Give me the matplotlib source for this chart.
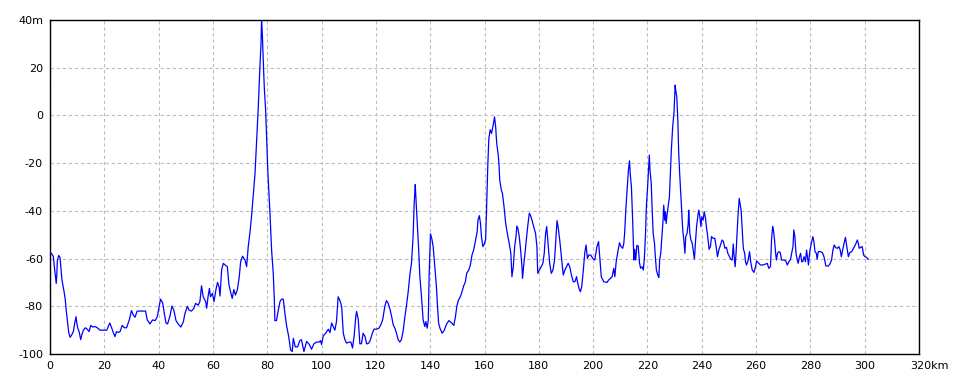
import matplotlib
matplotlib.use("Agg")
import matplotlib.pyplot as plt
import numpy as np

# distance (km) / elevation (m), in segments
km_a = [0, 0.6, 1.2, 1.8, 2.3, 2.5, 2.7, 3.2, 3.7, 4.4, 5.2, 5.6, 6, 6.5, 6.9, 7.4, 8, 8.6, 9.2, 9.6,
        9.8, 10.2, 10.8, 11.3, 11.7, 12.3, 13, 13.7, 14.4, 15, 15.7, 16.6, 17.4, 18.4, 19.6, 20.9,
        22, 22.7, 23.3, 23.9, 24.5, 25.2, 25.8, 26.6, 27.4, 28.2, 29.2, 30, 30.7, 31.3, 32.1, 33.1,
        34.4, 35.2, 35.8, 36.8, 37.8, 38.7, 39.5, 40.2, 40.7, 41.5, 42.1, 42.7, 43.3, 44.2, 44.9,
        45.6, 46.4, 47.2, 48.2, 49.1, 49.7, 50.6, 51.2, 52.1, 53, 53.6, 54.6, 55.2, 55.8, 56.4,
        57.3, 57.7, 58.2, 58.7, 59.1, 59.8, 60.4, 61.1, 61.7, 62.3, 62.6, 63.2, 63.8, 64.5, 65.3,
        65.9, 66.5, 67.1, 67.7, 68.3, 69, 69.7, 70.2, 70.9, 71.8, 72.4, 73, 73.6, 74.2, 74.8, 75.5,
        76.1, 76.7, 77.3, 77.7, 77.9, 78.2, 78.4, 78.9, 79.4, 79.8, 80.2, 81, 81.6, 82.2, 82.6,
        82.8, 83.4, 84, 84.7, 85.3, 85.9, 86.5, 87.1, 87.9, 88.6, 89.2, 89.6, 90.3, 91.2]
elev_a = [-57.1, -58, -59, -65.5, -70.4, -67, -61, -58.7, -59.6, -69, -74, -77, -82, -87, -91, -93,
          -92, -90.6, -86.5, -84.4, -86.5, -89, -91, -94, -92, -90, -89, -89.6, -90.6, -88, -88.7,
          -88.5, -89, -90, -90, -90, -87, -89, -91, -92.7, -90.6, -91, -90.6, -88, -89, -89, -85.7,
          -81.8, -83.7, -84.6, -82, -82, -82, -82, -85.7, -87.4, -85.7, -86, -84.4, -80, -77,
          -78.6, -83, -87, -87.4, -84, -79.9, -81.6, -86, -87.4, -88.7, -86.5, -83, -80, -81.6,
          -82, -80.8, -78.8, -79.5, -78, -71.4, -76, -78, -80.8, -76, -72.5, -76, -74.6, -78, -73,
          -70, -72, -75.7, -64.8, -62, -62.7, -63.4, -71, -74, -76.7, -73, -75.3, -73, -67.6,
          -61.3, -59, -60.6, -63.4, -55, -49.4, -42.5, -34, -24.3, -10.3, 3.6, 20.4, 30, 40, 34,
          27, 12, 2.2, -10, -23, -41, -56.4, -66, -77, -86, -86, -82, -78, -77, -77, -83, -88,
          -92.7, -98.3, -99, -93.4, -97, -97]

km_b = [92, 92.6, 93.5, 94.5, 95.5, 96.3, 97.2, 98.2, 99.1, 99.6, 100, 100.6, 101.5, 102.5, 103.1,
        103.7, 104.3, 104.9, 105.5, 106.1, 106.7, 107.4, 108, 108.6, 109.2, 110.2, 110.8, 111.4,
        112, 112.6, 112.9, 113.5, 114.1, 114.7, 115.3, 116, 116.6, 117.4, 118, 118.7, 119.3,
        120.2, 121.1, 121.8, 122.5, 123.3, 123.9, 124.5, 125.2, 125.8, 126.4, 127, 127.6, 128.2,
        128.8, 129.4, 130, 130.7, 131.3, 131.9, 132.5, 133.1, 133.7, 134.1, 134.5, 134.7, 135.2,
        135.7, 136.2, 136.8, 137.4, 138, 138.4, 138.9, 139.3, 139.6, 140.1, 140.6, 141.1, 141.7,
        142.3, 142.7, 143.1, 143.6, 144.4, 145.2, 146]
elev_b = [-94.3, -94, -99, -94.7, -96, -98, -95.7, -95, -95, -94.4, -96, -92.4, -91.3, -89.6, -91,
          -87, -88.5, -90, -86.4, -76, -77.4, -80, -91.3, -94, -95.4, -95, -95, -97.5, -92.4,
          -84.3, -82.2, -85.4, -95.7, -95.7, -91.3, -92.6, -95.8, -95.4, -94, -91.3, -89.6, -89.6,
          -89.2, -87.8, -85.7, -80, -77.6, -78.7, -81.2, -84.3, -87.8, -89.2, -91.3, -94, -95,
          -94, -90.6, -84.3, -79.4, -73.9, -67, -62, -51, -37, -29, -33.6, -44, -55, -67.6, -76,
          -85.7, -88.5, -86.4, -89.2, -85.7, -67.6, -49.6, -51.7, -55, -63.5, -71.8, -80, -87,
          -89.2, -91.3, -90, -87.5]

km_c = [146.9, 147.9, 148.7, 149.3, 149.8, 150.4, 151.1, 151.7, 152.3, 152.9, 153.5, 154.2, 154.8,
        155.4, 156, 156.6, 157.3, 157.6, 158.1, 158.5, 158.9, 159.4, 159.9, 160.4, 160.7, 161.2,
        161.6, 162.1, 162.6, 163.1, 163.5, 163.7, 164.1, 164.5, 165, 165.3, 165.6, 166.2, 166.6,
        167.2, 167.8, 168.4, 169.1, 169.7, 170.1, 170.6, 171.1, 171.6, 171.9, 172.3, 172.8,
        173.3, 173.8, 174, 174.4, 174.9, 175.4, 175.9, 176.5, 176.9, 177.5, 178.1, 178.8, 179.3,
        179.6, 180.2, 180.9, 181.5, 182, 182.5, 182.9, 183.4, 184, 184.6, 185.2, 185.8, 186.5,
        186.7, 187.1, 187.7, 188.3, 189, 189.6, 190.2, 190.8, 191.4, 192, 192.7, 193.3, 193.9,
        194.3, 194.8, 195.3, 195.8, 196.4, 196.9, 197.4, 197.9, 198.4, 199.1, 199.9, 200.6,
        201.4, 202]
elev_c = [-86, -87, -88, -84.4, -80, -77.4, -76, -74, -71.5, -70, -66, -64.8, -62.7, -58.5, -56.4,
          -53, -48.7, -43.9, -42, -45, -51, -55, -54, -52, -41.8, -21.5, -9.6, -6, -7.5, -4.7, -2,
          -0.6, -4.7, -11.7, -16, -20, -27, -31.3, -32.7, -38.3, -45.3, -49.4, -53.6, -57.8,
          -67.6, -63.4, -55, -50.8, -46.4, -47.3, -50.8, -56.4, -63.4, -68.3, -63.4, -57.8, -52.2,
          -46.6, -41, -41.8, -43.9, -46.6, -49.4, -55, -66.2, -64.8, -63.4, -62, -57.8, -49.4,
          -46.6, -53.6, -62, -66.2, -64.8, -60.6, -48, -44.1, -46.6, -52.2, -59.2, -66.9, -64.8,
          -63.4, -62, -63.4, -66.9, -69.7, -69.7, -67.6, -70.1, -72.5, -73.9, -71.8, -64.8, -57.8,
          -54.3, -60, -58.5, -58.5, -60, -60.6, -55, -52.9]

km_d = [202.5, 203, 203.9, 205.1, 205.7, 206.4, 207, 207.6, 208, 208.5, 208.8, 209.7, 210.3, 210.9,
        211.3, 211.6, 212.1, 212.6, 213, 213.4, 213.7, 214.1, 214.6, 215, 215.3, 215.7, 216.1,
        216.6, 217.1, 217.5, 218, 218.5, 218.9, 219.3, 219.6, 220.1, 220.5, 220.7, 220.9, 221.4,
        221.7, 222.1, 222.6, 222.9, 223.3, 223.8, 224.2, 224.5, 224.9, 225.4, 225.8, 226, 226.4,
        226.6, 226.9, 227.2, 227.6, 228.1, 228.5, 228.8, 229.3, 229.8, 230.2, 230.4, 230.8,
        231.2, 231.5, 231.9, 232.3, 232.6, 233, 233.4, 233.8, 234.1, 234.6, 235, 235.2, 235.6,
        236, 236.5, 237, 237.3, 237.7, 238.1, 238.6, 238.9, 239.3, 239.7, 240, 240.5, 240.9,
        241.4, 241.7, 242.2, 242.7, 243.2, 243.6, 244.2, 244.8, 245.3, 245.8, 246.3, 246.9,
        247.5, 248, 248.5, 249.1, 249.6, 250.2, 250.7, 251.2, 251.6, 252, 252.3, 252.7, 253,
        253.4, 253.8, 254.1, 254.5, 254.9, 255.3, 255.8, 256.1, 256.5, 257.1, 257.6, 258.1,
        258.6, 259.2, 259.8, 260.2, 260.8, 261.6, 262.5, 263.5, 264.1, 264.7, 265.3, 265.7,
        266.1, 266.4, 266.8, 267.2, 267.5, 267.9, 268.4, 268.9, 269.4, 270.2, 270.9, 271.5,
        272.1, 272.7, 273.1, 273.6, 273.9, 274.3, 274.7, 275.2, 275.5, 276, 276.4, 276.8, 277.2,
        277.7, 278.2, 278.6, 278.9, 279.3, 279.7, 280.1, 280.4, 280.9, 281.3, 281.7, 282.2,
        282.5, 282.9, 283.8, 284.4, 285, 285.4, 285.7, 286.6, 287.2, 287.8, 288.3, 288.8, 289.3,
        289.9, 290.5, 291, 291.4, 291.9, 292.4, 292.9, 293.2, 293.6, 294, 294.5, 295.2, 295.9,
        296.7, 297.3, 297.7, 298, 298.5, 299.1, 299.6, 300.1, 300.7, 301.3]
elev_d = [-60, -67.6, -69.7, -70, -69, -68.3, -67.6, -64.1, -67.6, -61.3, -59.2, -53.4, -55, -55.7,
          -53.6, -49.4, -38.3, -29.9, -22.9, -19, -25, -29.9, -45.3, -60.6, -56.1, -60.6, -54.5,
          -54.7, -62, -64.1, -63.4, -64.8, -59.2, -49.4, -38.3, -29.2, -20.8, -16.6, -22.2, -28.5,
          -38.3, -49.4, -53.6, -59.2, -64.8, -66.9, -67.9, -60.6, -57.8, -49.4, -43.1, -37.6,
          -43.9, -40.4, -45.3, -41.8, -38.3, -34, -22.9, -14.5, -4.7, 1.5, 12.7, 10.6, 7.8, -2,
          -15.2, -25, -33.4, -40.4, -48, -52.2, -57.8, -50.8, -49.4, -45.5, -39.7, -49.4, -52.2,
          -53.6, -57.8, -60.2, -52.9, -46.6, -41.8, -39.7, -42.5, -46.6, -42.5, -43.9, -40.4,
          -43.2, -46.6, -50.8, -56.1, -55, -50.8, -51.5, -51.5, -55, -59.2, -56.4, -54.3, -52.2,
          -52.9, -55.7, -55.3, -57.8, -59.2, -60.3, -60.6, -53.9, -60.3, -63.4, -56.4, -49.4,
          -41.1, -34.8, -36.9, -39.7, -48, -55.7, -57.8, -61.3, -62.7, -60.6, -57.1, -62, -64.8,
          -65.8, -63.4, -61, -61.7, -62.7, -62.7, -62.3, -62, -64.1, -63.4, -52.2, -46.6, -48,
          -52.2, -57.8, -60.6, -57.8, -57.1, -57.5, -60.6, -60.6, -60.9, -62.7, -61.3, -60.3,
          -57.8, -55, -48, -50.8, -57.8, -60.6, -62, -59.2, -57.8, -61.3, -61.3, -59.2, -61.3,
          -56.4, -59.2, -62.7, -57.8, -55, -53.4, -50.8, -52.9, -57.1, -57.8, -60.3, -57.1, -57.1,
          -57.5, -59.2, -61.3, -63.1, -63.1, -62.3, -60.6, -56.4, -54.3, -55.4, -55.7, -55,
          -56.4, -59.2, -56.4, -53.6, -51.1, -53.4, -56.4, -59.2, -57.5, -57.1, -55.7, -53.9,
          -52.2, -53.9, -55.7, -55.3, -55, -58.5, -59.2, -59.5, -60.3]

x_ticks = [0, 20, 40, 60, 80, 100, 120, 140, 160, 180, 200, 220, 240, 260, 280, 300, 320]
x_tick_labels = ["0", "20", "40", "60", "80", "100", "120", "140", "160", "180", "200",
                 "220", "240", "260", "280", "300", "320km"]
y_ticks = [-100, -80, -60, -40, -20, 0, 20, 40]
y_tick_labels = ["-100", "-80", "-60", "-40", "-20", "0", "20", "40m"]

km = np.array(km_a + km_b + km_c + km_d)
elev = np.array(elev_a + elev_b + elev_c + elev_d)

fig = plt.figure(figsize=(9.6, 3.84), dpi=100)
ax = fig.add_axes([50 / 960, 30 / 384, 869 / 960, 334 / 384])
ax.plot(km, elev, color="#0000ff", lw=0.9, zorder=3)

ax.set_xlim(0, 320)
ax.set_ylim(-100, 40)
ax.set_xticks(x_ticks)
# last label (with unit) is drawn separately so that "320" stays centred on its tick
ax.set_xticklabels(x_tick_labels[:-1] + [""], fontsize=8)
ax.set_yticks(y_ticks)
ax.set_yticklabels(y_tick_labels, fontsize=8)
ax.tick_params(length=0, pad=5)
ax.annotate(x_tick_labels[-1], xy=(x_ticks[-1], 0), xycoords=("data", "axes fraction"),
            xytext=(-6.3, -5), textcoords="offset points", ha="left", va="top", fontsize=8)
ax.grid(True, color="#bdbdbd", linestyle=(0, (3, 2.5)), lw=0.8)
for s in ax.spines.values():
    s.set_color("black")
    s.set_linewidth(1.0)

fig.savefig("out.png", dpi=100)
